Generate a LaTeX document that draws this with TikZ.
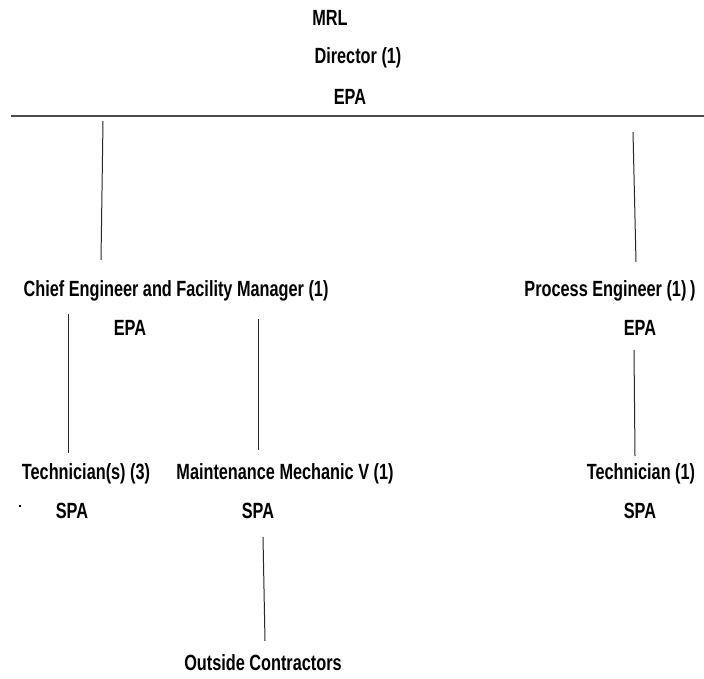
\documentclass[tikz,border=0pt]{standalone}
\usepackage{fontspec}
\newfontfamily\narrowbold[FakeStretch=0.74]{Liberation Sans}
\begin{document}
\begin{tikzpicture}[x=1pt,y=-1pt,
  lbl/.style={inner sep=0pt, font=\narrowbold\bfseries\fontsize{22}{24}\selectfont, anchor=center},
  conn/.style={line width=1pt, draw=black!85}]
\useasboundingbox (0,0) rectangle (704,679);
% top
\node[lbl] (mrl) at (330,18) {MRL};
\node[lbl] (dir) at (358,58) {Director (1)};
\node[lbl] (depa) at (350,97) {EPA};
\coordinate (hl) at (11,116);
\coordinate (hr) at (704,116);
\draw[line width=1.6pt, draw=black!70] (hl) -- (hr);
% level 2
\node[lbl] (ce) at (176,291) {Chief Engineer and Facility Manager (1)};
\node[lbl] (ceepa) at (130,328) {EPA};
\node[lbl] (pe) at (610,291) {Process Engineer (1)\,)};
\node[lbl] (peepa) at (640,328) {EPA};
% level 3
\node[lbl] (tech3) at (86,474) {Technician(s) (3)};
\node[lbl] (t3spa) at (72,511) {SPA};
\node[lbl] (mm) at (285,474) {Maintenance Mechanic V (1)};
\node[lbl] (mmspa) at (258,511) {SPA};
\node[lbl] (tech1) at (641,474) {Technician (1)};
\node[lbl] (t1spa) at (640,511) {SPA};
\node[lbl] (oc) at (263,663) {Outside Contractors};
\node[inner sep=0pt] (dot) at (20,506) {\rule{2pt}{2pt}};
% connectors
\coordinate (a1) at (103,121); \coordinate (a2) at (101,260);
\coordinate (b1) at (633,132); \coordinate (b2) at (636,262);
\coordinate (c1) at (68,314); \coordinate (c2) at (68,453);
\coordinate (d1) at (258,319); \coordinate (d2) at (258,450);
\coordinate (e1) at (634,350); \coordinate (e2) at (635,456);
\coordinate (f1) at (263,537); \coordinate (f2) at (265,641);
\draw[conn] (a1) -- (a2);
\draw[conn] (b1) -- (b2);
\draw[conn] (c1) -- (c2);
\draw[conn] (d1) -- (d2);
\draw[conn] (e1) -- (e2);
\draw[conn] (f1) -- (f2);
\end{tikzpicture}
\end{document}
